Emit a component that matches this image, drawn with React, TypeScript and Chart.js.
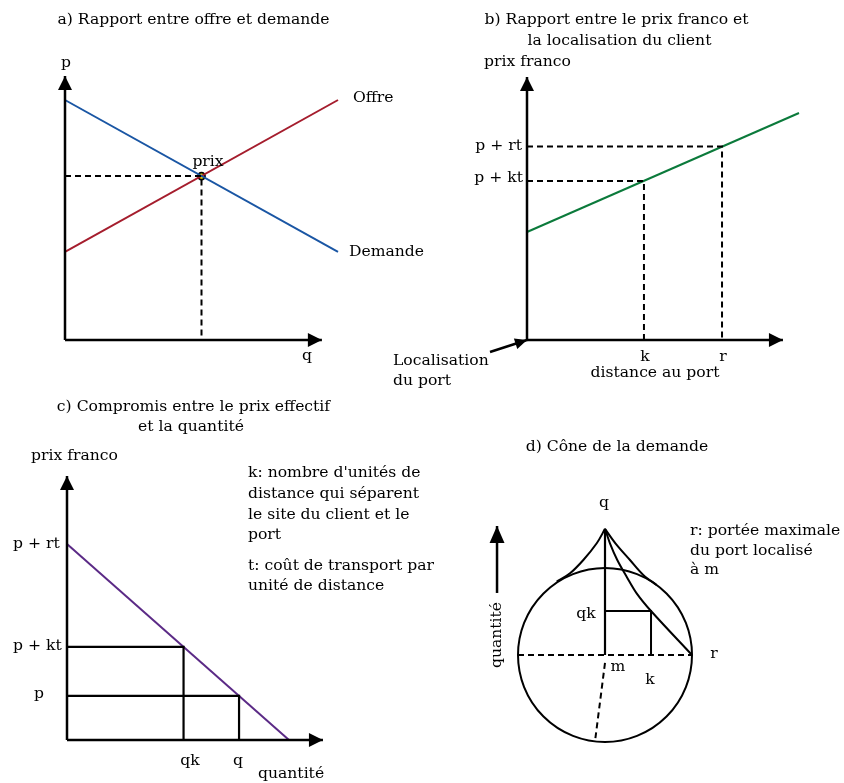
import React, { useEffect, useRef } from "react";
import { Chart, registerables } from "chart.js";

Chart.register(...registerables);

const W = 844;
const H = 783;

// ---------- data ----------
// a) supply & demand
const aQuantity = [0, 10];
const aDemandPrice = [10, 3.67];
const aSupplyPrice = [3.67, 10];
const aEquilibrium = [5, 6.83]; // q, p
const aAxisEnds = [9.41, 11]; // q, p

// b) delivered price vs. distance
const bDistance = [0, 10];
const bDeliveredPrice = [4.5, 9.46];
const bDistanceMarks = [4.3, 7.17]; // k, r
const bPriceMarks = [6.63, 8.06]; // p + kt, p + rt
const bAxisEnds = [9.41, 10.96];
const bPortArrowFrom = [-1.36, -0.5];

// c) effective price vs. quantity
const cQuantity = [0, 10];
const cPrice = [10, 0];
const cQuantityMarks = [5.25, 7.75]; // qk, q
const cPriceMarks = [4.75, 2.25]; // p + kt, p
const cAxisEnds = [11.53, 13.47];

// d) demand cone
const dRadius = 10;
const dApex = 14.5;
const dDemandDistance = [0, 0.57, 1.41, 2.49, 3.64, 5.29, 10];
const dDemandQuantity = [14.5, 12.84, 10.92, 9.0, 7.09, 5.06, 0];
const dConeLeftDistance = [-5.55, -4.02, -2.49, -0.95, 0];
const dConeLeftQuantity = [8.43, 9.39, 10.92, 12.84, 14.5];
const dConeRightDistance = [0, 1.2, 2.87, 4.4, 5.94];
const dConeRightQuantity = [14.5, 12.84, 10.92, 9.2, 8.05];
const dMark = [5.29, 5.06]; // k, qk
const dSpoke = [[0, -0.9], [-1.15, -9.93]];
const dQuantityArrow = [-12.41, 7.13, 14.83]; // x, from y, to y

// ---------- layout ----------
const PANELS: Record<string, { ox: number; oy: number; sx: number; sy: number }> = {
  A: { ox: 65, oy: 340, sx: 27.3, sy: 24 },
  B: { ox: 527, oy: 340, sx: 27.2, sy: 24 },
  C: { ox: 67, oy: 740, sx: 22.2, sy: 19.6 },
  D: { ox: 605, oy: 655, sx: 8.7, sy: 8.7 },
};

const FONT = '15.6px "DejaVu Serif"';
const BLACK = "#000000";
const BLUE = "#1a56a4";
const RED = "#a51d2d";
const GREEN = "#0b7a3b";
const PURPLE = "#5b2a86";
const DASH = [6, 4];
const CURVE = { tension: 0.35 };

const zip = (xs: number[], ys: number[]) => xs.map((x, i) => ({ x, y: ys[i] }));
const pt = (x: number, y: number) => ({ x, y });

function line(panel: string, data: { x: number; y: number }[], extra: any = {}) {
  return {
    data,
    xAxisID: "x" + panel,
    yAxisID: "y" + panel,
    showLine: true,
    borderColor: BLACK,
    backgroundColor: BLACK,
    borderWidth: 2,
    pointRadius: 0,
    pointHoverRadius: 0,
    tension: 0,
    fill: false,
    clip: false,
    ...extra,
  };
}

const AXIS = { borderWidth: 2.5, arrowHead: { length: 14, half: 7 } };

function buildDatasets() {
  const [kB, rB] = bDistanceMarks;
  const [pktB, prtB] = bPriceMarks;
  const [qkC, qC] = cQuantityMarks;
  const [pktC, pC] = cPriceMarks;
  const [kD, qkD] = dMark;
  return [
    // a
    line("A", [pt(0, 0), pt(aAxisEnds[0], 0)], AXIS),
    line("A", [pt(0, 0), pt(0, aAxisEnds[1])], AXIS),
    line("A", [pt(0, aEquilibrium[1]), pt(aEquilibrium[0], aEquilibrium[1]), pt(aEquilibrium[0], 0)], { borderDash: DASH }),
    line("A", zip(aQuantity, aDemandPrice), { borderColor: BLUE }),
    line("A", zip(aQuantity, aSupplyPrice), { borderColor: RED }),
    line("A", [pt(aEquilibrium[0], aEquilibrium[1])], {
      showLine: false,
      pointRadius: 3.5,
      pointBorderWidth: 1.8,
      pointBackgroundColor: "#f7e600",
      pointBorderColor: BLACK,
    }),
    // b
    line("B", [pt(0, 0), pt(bAxisEnds[0], 0)], AXIS),
    line("B", [pt(0, 0), pt(0, bAxisEnds[1])], AXIS),
    line("B", [pt(0, pktB), pt(kB, pktB), pt(kB, 0)], { borderDash: DASH }),
    line("B", [pt(0, prtB), pt(rB, prtB), pt(rB, 0)], { borderDash: DASH }),
    line("B", zip(bDistance, bDeliveredPrice), { borderColor: GREEN }),
    line("B", [pt(bPortArrowFrom[0], bPortArrowFrom[1]), pt(0, 0)], {
      borderWidth: 2.5,
      arrowHead: { length: 12, half: 5.5 },
    }),
    // c
    line("C", [pt(0, 0), pt(cAxisEnds[0], 0)], AXIS),
    line("C", [pt(0, 0), pt(0, cAxisEnds[1])], AXIS),
    line("C", [pt(0, pktC), pt(qkC, pktC), pt(qkC, 0)], { borderWidth: 2.2 }),
    line("C", [pt(0, pC), pt(qC, pC), pt(qC, 0)], { borderWidth: 2.2 }),
    line("C", zip(cQuantity, cPrice), { borderColor: PURPLE }),
    // d
    line("D", [pt(0, 0)], {
      showLine: false,
      pointRadius: (ctx: any) => {
        const s = ctx.chart.scales.xD;
        return s.getPixelForValue(dRadius) - s.getPixelForValue(0);
      },
      pointBorderWidth: 2,
      pointBackgroundColor: "rgba(0,0,0,0)",
      pointBorderColor: BLACK,
    }),
    line("D", [pt(-dRadius, 0), pt(dRadius, 0)], { borderDash: DASH }),
    line("D", dSpoke.map(([x, y]) => pt(x, y)), { borderDash: DASH }),
    line("D", [pt(0, 0), pt(0, dApex)], { borderWidth: 2.2 }),
    line("D", [pt(0, qkD), pt(kD, qkD), pt(kD, 0)]),
    line("D", zip(dConeLeftDistance, dConeLeftQuantity), CURVE),
    line("D", zip(dConeRightDistance, dConeRightQuantity), CURVE),
    line("D", zip(dDemandDistance, dDemandQuantity), CURVE),
    line("D", [pt(dQuantityArrow[0], dQuantityArrow[1]), pt(dQuantityArrow[0], dQuantityArrow[2])], {
      borderWidth: 2.5,
      arrowHead: { length: 17, half: 7.5 },
    }),
  ];
}

const TEXTS = [
  // a
  { text: "a) Rapport entre offre et demande", x: 193.5, y: 24, align: "center" },
  { text: "p", x: 66, y: 67, align: "center" },
  { text: "q", x: 307, y: 360, align: "center" },
  { text: "Offre", x: 353, y: 102 },
  { text: "Demande", x: 349, y: 256 },
  { text: "prix", x: 208, y: 166, align: "center" },
  // b
  { text: "b) Rapport entre le prix franco et", x: 616.5, y: 24, align: "center" },
  { text: "la localisation du client", x: 619.5, y: 45, align: "center" },
  { text: "prix franco", x: 484, y: 66 },
  { text: "p + rt", x: 522, y: 150, align: "right" },
  { text: "p + kt", x: 523, y: 182, align: "right" },
  { text: "k", x: 645, y: 361, align: "center" },
  { text: "r", x: 723, y: 361, align: "center" },
  { text: "distance au port", x: 655, y: 377, align: "center" },
  { text: "Localisation", x: 393, y: 365 },
  { text: "du port", x: 393, y: 385 },
  // c
  { text: "c) Compromis entre le prix effectif", x: 193.5, y: 411, align: "center" },
  { text: "et la quantité", x: 191, y: 431, align: "center" },
  { text: "prix franco", x: 31, y: 460 },
  { text: "p + rt", x: 13, y: 548 },
  { text: "p + kt", x: 13, y: 650 },
  { text: "p", x: 34, y: 698 },
  { text: "qk", x: 190, y: 765, align: "center" },
  { text: "q", x: 238, y: 765, align: "center" },
  { text: "quantité", x: 258, y: 778 },
  { text: "k: nombre d'unités de", x: 248, y: 477 },
  { text: "distance qui séparent", x: 248, y: 497.5 },
  { text: "le site du client et le", x: 248, y: 518.5 },
  { text: "port", x: 248, y: 538.5 },
  { text: "t: coût de transport par", x: 248, y: 570 },
  { text: "unité de distance", x: 248, y: 590 },
  // d
  { text: "d) Cône de la demande", x: 617, y: 451, align: "center" },
  { text: "q", x: 604, y: 507, align: "center" },
  { text: "r: portée maximale", x: 690, y: 535 },
  { text: "du port localisé", x: 690, y: 555 },
  { text: "à m", x: 690, y: 574 },
  { text: "qk", x: 586, y: 618, align: "center" },
  { text: "m", x: 618, y: 671, align: "center" },
  { text: "k", x: 650, y: 684, align: "center" },
  { text: "r", x: 714, y: 658, align: "center" },
  { text: "quantité", x: 497, y: 635, align: "center", baseline: "middle", rot: -Math.PI / 2 },
];

const arrowPlugin = {
  id: "arrowHeads",
  afterDatasetsDraw(chart: any) {
    const ctx = chart.ctx;
    chart.data.datasets.forEach((ds: any, i: number) => {
      const head = ds.arrowHead;
      if (!head) return;
      const pts = chart.getDatasetMeta(i).data;
      const n = pts.length;
      const a = pts[n - 2];
      const b = pts[n - 1];
      const ang = Math.atan2(b.y - a.y, b.x - a.x);
      ctx.save();
      ctx.fillStyle = ds.borderColor;
      ctx.translate(b.x, b.y);
      ctx.rotate(ang);
      ctx.beginPath();
      ctx.moveTo(0, 0);
      ctx.lineTo(-head.length, -head.half);
      ctx.lineTo(-head.length, head.half);
      ctx.closePath();
      ctx.fill();
      ctx.restore();
    });
  },
};

const textPlugin = {
  id: "figureText",
  afterDraw(chart: any, _args: any, opts: any) {
    const ctx = chart.ctx;
    for (const t of opts.items) {
      ctx.save();
      ctx.font = opts.font;
      ctx.fillStyle = BLACK;
      ctx.textAlign = t.align || "left";
      ctx.textBaseline = t.baseline || "alphabetic";
      ctx.translate(t.x, t.y);
      if (t.rot) ctx.rotate(t.rot);
      ctx.fillText(t.text, 0, 0);
      ctx.restore();
    }
  },
};

function buildScales() {
  const scales: any = {};
  for (const key of Object.keys(PANELS)) {
    const { ox, oy, sx, sy } = PANELS[key];
    scales["x" + key] = { type: "linear", display: false, min: -ox / sx, max: (W - ox) / sx };
    scales["y" + key] = { type: "linear", display: false, min: -(H - oy) / sy, max: oy / sy };
  }
  return scales;
}

export default function App() {
  const ref = useRef<HTMLCanvasElement | null>(null);
  useEffect(() => {
    if (!ref.current) return;
    const chart = new Chart(ref.current, {
      type: "scatter",
      data: { datasets: buildDatasets() as any },
      options: {
        responsive: false,
        animation: false,
        devicePixelRatio: 1,
        layout: { padding: 0, autoPadding: false },
        events: [],
        scales: buildScales(),
        plugins: {
          legend: { display: false },
          tooltip: { enabled: false },
          title: { display: false },
          figureText: { items: TEXTS, font: FONT },
        } as any,
      },
      plugins: [arrowPlugin, textPlugin],
    });
    return () => chart.destroy();
  }, []);
  return (
    <div style={{ position: "fixed", left: 0, top: 0, width: W, height: H, background: "#fff" }}>
      <canvas ref={ref} width={W} height={H} style={{ width: W, height: H, display: "block" }} />
    </div>
  );
}
